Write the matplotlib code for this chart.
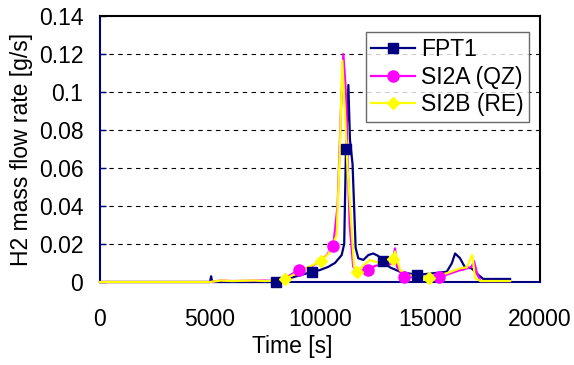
import matplotlib
matplotlib.use("Agg")
import matplotlib.pyplot as plt
from matplotlib.lines import Line2D

plt.rcParams['font.family'] = ['Liberation Sans', 'DejaVu Sans']

# ---- data ----
fpt1_t = [0, 5000, 5050, 5100, 8000, 9636, 10000, 10360, 10680, 10985, 11100, 11180, 11290,
          11360, 11480, 11550, 11620, 11740, 11970, 12200, 12420, 12650, 12850, 13180, 13640,
          14390, 15150, 15760, 15990, 16140, 16360, 16590, 16890, 17200, 17420, 18640]
fpt1_v = [0, 0, 0.003, 0, 0, 0.0053, 0.0063, 0.0079, 0.010, 0.0142, 0.020, 0.070, 0.1037,
          0.075, 0.062, 0.040, 0.018, 0.0125, 0.0116, 0.0142, 0.015, 0.0137, 0.011, 0.0077, 0.0054,
          0.0037, 0.0046, 0.0054, 0.0098, 0.015, 0.0126, 0.0077, 0.0072, 0.0037, 0.0016, 0.0016]
fpt1_mt = [8000, 9636, 11180, 12850, 14390]
fpt1_mv = [0, 0.0053, 0.070, 0.011, 0.0037]

si2a_t = [0, 5000, 5500, 6000, 7500, 8000, 8400, 9045, 9600, 10000, 10300, 10600, 10800, 10950,
          11060, 11150, 11210, 11240, 11350, 11510, 11700, 12200, 12500, 12800, 13100, 13300,
          13410, 13500, 13820, 14500, 15410, 15800, 16300, 16500, 16890, 17000, 17150, 17300, 18640]
si2a_v = [0, 0, 0.0008, 0.0005, 0.0008, 0.0005, 0.002, 0.0063, 0.008, 0.011, 0.014, 0.019, 0.040, 0.090,
          0.120, 0.105, 0.089, 0.069, 0.030, 0.008, 0.006, 0.0063, 0.0085, 0.009, 0.009, 0.010,
          0.0177, 0.008, 0.0026, 0.0026, 0.0026, 0.004, 0.006, 0.0065, 0.008, 0.011, 0.004, 0.0005, 0.0005]
si2a_mt = [9045, 10600, 12200, 13820, 15410]
si2a_mv = [0.0063, 0.019, 0.0063, 0.0026, 0.0026]

si2b_t = [0, 5000, 5500, 6000, 7000, 7500, 8000, 8410, 9000, 9500, 10060, 10400, 10760, 10900,
          11015, 11080, 11140, 11250, 11400, 11550, 11700, 12000, 12270, 12730, 13180, 13340,
          13410, 13640, 13940, 14950, 15760, 16360, 16670, 16920, 17050, 17300, 18640]
si2b_v = [0, 0, 0.0008, 0.0005, 0.0008, 0.0005, 0.0008, 0.0016, 0.005, 0.008, 0.011, 0.015, 0.0247, 0.069,
          0.1165, 0.100, 0.087, 0.060, 0.035, 0.008, 0.0053, 0.009, 0.0116, 0.0098, 0.0116, 0.012,
          0.016, 0.0063, 0.0037, 0.0023, 0.0046, 0.0072, 0.0077, 0.0142, 0.002, 0.0005, 0.0005]
si2b_mt = [8410, 10060, 11700, 13340, 14950]
si2b_mv = [0.0016, 0.011, 0.0053, 0.012, 0.0023]

labels = ['FPT1', 'SI2A (QZ)', 'SI2B (RE)']
yticks = [0, 0.02, 0.04, 0.06, 0.08, 0.10, 0.12, 0.14]
ytick_labels = ['0', '0.02', '0.04', '0.06', '0.08', '0.1', '0.12', '0.14']
xticks = [0, 5000, 10000, 15000, 20000]

# ---- figure ----
fig = plt.figure(figsize=(5.74, 3.65), dpi=100)
ax = fig.add_axes([100/574, 1-282/365, 440/574, 266/365])

navy, mag, yel = '#000080', '#FF00FF', '#FFFF00'
fs = 16.5
lw = 1.6

for y in yticks[1:-1]:
    ax.axhline(y, color='black', lw=0.8, ls=(0, (4, 4)), zorder=1)

series = [(fpt1_t, fpt1_v, fpt1_mt, fpt1_mv, navy, 's', 7),
          (si2a_t, si2a_v, si2a_mt, si2a_mv, mag, 'o', 8),
          (si2b_t, si2b_v, si2b_mt, si2b_mv, yel, 'D', 6)]
handles = []
for i, (t, v, mt, mv, c, m, ms) in enumerate(series):
    ax.plot(t, v, color=c, lw=lw, zorder=3 + i, solid_joinstyle='round', clip_on=False)
    ax.plot(mt, mv, ls='none', marker=m, ms=ms, color=c, mec=c, zorder=6 + i, clip_on=False)
    handles.append(Line2D([], [], color=c, lw=lw, marker=m, ms=ms, mec=c))

ax.set_xlim(0, 20000)
ax.set_ylim(0, 0.14)
ax.set_yticks(yticks)
ax.set_yticklabels(ytick_labels, fontsize=fs)
ax.set_xticks(xticks)
ax.set_xticklabels([str(x) for x in xticks], fontsize=fs)
ax.tick_params(axis='y', direction='in', length=4, color=navy, width=1, pad=12)
ax.tick_params(axis='x', length=0, pad=19)

for s in ['left', 'bottom']:
    ax.spines[s].set_color(navy)
    ax.spines[s].set_linewidth(1.5)
for s in ['top', 'right']:
    ax.spines[s].set_color('black')
    ax.spines[s].set_linewidth(1.5)

ax.set_ylabel('H2 mass flow rate [g/s]', fontsize=fs)
ax.yaxis.set_label_coords(-0.152, 0.5)
ax.set_xlabel('Time [s]', fontsize=fs)
ax.xaxis.set_label_coords(0.436, -0.2)

leg = ax.legend(handles, labels, loc='upper left', bbox_to_anchor=(0.604, 0.939),
                borderaxespad=0, fontsize=fs, frameon=True, fancybox=False,
                edgecolor='#444444', handlelength=1.9, handletextpad=0.25,
                labelspacing=0.2, borderpad=0.25)
leg.get_frame().set_linewidth(1.0)
leg.set_zorder(20)

fig.savefig('out.png', dpi=100)
